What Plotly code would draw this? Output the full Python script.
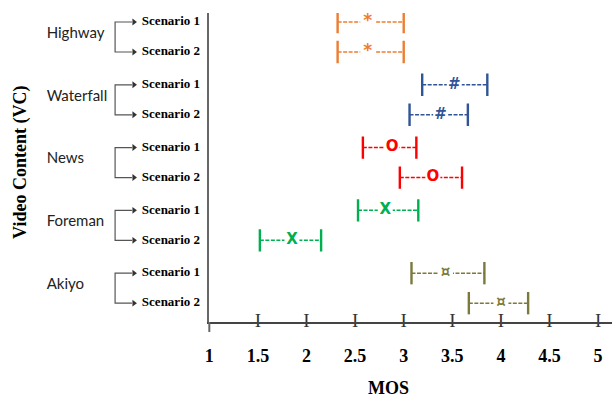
import plotly.graph_objects as go

# ---------------- data ----------------
groups = ["Highway", "Waterfall", "News", "Foreman", "Akiyo"]
scenarios = ["Scenario 1", "Scenario 2"]
mos_low = [[2.32, 2.32], [3.19, 3.06], [2.58, 2.96], [2.53, 1.52], [3.08, 3.67]]
mos_high = [[3.00, 3.00], [3.86, 3.66], [3.13, 3.60], [3.15, 2.15], [3.83, 4.28]]
mos_mid = [[2.63, 2.63], [3.52, 3.38], [2.88, 3.30], [2.81, 1.85], [3.43, 4.00]]
glyphs = ["*", "#", "O", "X", "¤"]
glyph_sizes = [17, 15, 15, 15, 15]
colors = ["#ED7D31", "#2F5597", "#FF0000", "#00B050", "#7A7A3C"]
x_ticks = [1, 1.5, 2, 2.5, 3, 3.5, 4, 4.5, 5]
x_tick_text = ["1", "1.5", "2", "2.5", "3", "3.5", "4", "4.5", "5"]

# ---------------- layout constants ----------------
W, H = 612, 398
AXIS_X = 206
MT, MB = 13, 76
PLOT_H = H - MT - MB
PLOT_W = W - AXIS_X
GROUP_STEP = 2.093
SCEN_STEP = 1.0
Y_TOP, Y_BOT = -0.3, 10.0
X_MAX = 1 + PLOT_W / 98.0

def row_y(g, s):
    return g * GROUP_STEP + s * SCEN_STEP

serif = "Liberation Serif"
sans = "Lato"
glyph_font = "DejaVu Sans"

fig = go.Figure()

for g, name in enumerate(groups):
    xs, ys = [], []
    for s in range(2):
        xs += [mos_low[g][s], mos_high[g][s], None]
        ys += [row_y(g, s), row_y(g, s), None]
    fig.add_trace(go.Scatter(
        x=xs, y=ys, mode="lines+markers",
        line=dict(color=colors[g], width=1.5, dash="4px,1.5px"),
        marker=dict(symbol="line-ns", size=16, line=dict(color=colors[g], width=2.4)),
        hoverinfo="skip", showlegend=False, xaxis="x", yaxis="y"))
    fig.add_trace(go.Scatter(
        x=mos_mid[g], y=[row_y(g, 0), row_y(g, 1)], mode="markers+text",
        marker=dict(symbol="square", size=15, color="white"),
        text=[glyphs[g]] * 2, textposition="middle center",
        textfont=dict(family=glyph_font, size=glyph_sizes[g], color=colors[g], weight="bold"),
        cliponaxis=False, hoverinfo="skip", showlegend=False, xaxis="x", yaxis="y"))

fig.add_trace(go.Scatter(
    x=x_ticks[1:], y=[Y_BOT] * (len(x_ticks) - 1), mode="text",
    text=["I"] * (len(x_ticks) - 1), textposition="middle center",
    textfont=dict(family=serif, size=19, color="#333333"),
    cliponaxis=False, hoverinfo="skip", showlegend=False, xaxis="x", yaxis="y"))

bx, arm_end, tip = 111, 128, 133
for g in range(len(groups)):
    y1, y2 = row_y(g, 0), row_y(g, 1)
    fig.add_trace(go.Scatter(
        x=[arm_end, bx, bx, arm_end], y=[y1, y1, y2, y2], mode="lines",
        line=dict(color="#555555", width=1.2), hoverinfo="skip",
        showlegend=False, xaxis="x2", yaxis="y", cliponaxis=False))
    fig.add_trace(go.Scatter(
        x=[tip - 3, tip - 3], y=[y1, y2], mode="markers",
        marker=dict(symbol="triangle-right", size=6, color="#333333"),
        hoverinfo="skip", showlegend=False, xaxis="x2", yaxis="y", cliponaxis=False))
    fig.add_trace(go.Scatter(
        x=[138, 138], y=[y1, y2], mode="text", text=scenarios,
        textposition="middle right",
        textfont=dict(family=serif, size=13, color="black", weight="bold"),
        hoverinfo="skip", showlegend=False, xaxis="x2", yaxis="y", cliponaxis=False))
    fig.add_trace(go.Scatter(
        x=[42], y=[(y1 + y2) / 2 - 0.1], mode="text", text=[groups[g]],
        textposition="middle right",
        textfont=dict(family=sans, size=15, color="#222222"),
        hoverinfo="skip", showlegend=False, xaxis="x2", yaxis="y", cliponaxis=False))

fig.update_layout(
    width=W, height=H,
    margin=dict(l=0, r=0, t=MT, b=MB, pad=0),
    paper_bgcolor="white", plot_bgcolor="white",
    xaxis=dict(domain=[AXIS_X / W, 1], range=[1, X_MAX],
               tickvals=x_ticks, ticktext=x_tick_text,
               showline=True, linecolor="#444444", linewidth=2,
               ticks="outside", ticklen=16, tickcolor="rgba(0,0,0,0)",
               tickfont=dict(family=serif, size=18, color="black", weight="bold"),
               showgrid=False, zeroline=False, fixedrange=True, anchor="y"),
    yaxis=dict(range=[Y_BOT, Y_TOP], showline=True, linecolor="#666666",
               linewidth=2, showticklabels=False, ticks="", showgrid=False,
               zeroline=False, fixedrange=True, anchor="x"),
    xaxis2=dict(domain=[0, AXIS_X / W], range=[0, AXIS_X], visible=False,
                anchor="y", fixedrange=True),
    showlegend=False,
)

fig.add_annotation(text="MOS", xref="paper", yref="paper",
                   x=(AXIS_X + PLOT_W / 2) / W,
                   y=-(388 - (H - MB)) / PLOT_H, yanchor="middle",
                   showarrow=False,
                   font=dict(family=serif, size=18, color="black", weight="bold"))
fig.add_annotation(text="Video Content (VC)", xref="paper", yref="paper",
                   x=15 / W, y=((H - MB) - 162) / PLOT_H,
                   xanchor="center", yanchor="middle", textangle=-90,
                   showarrow=False,
                   font=dict(family=serif, size=18, color="black", weight="bold"))
fig.add_shape(type="line", xref="paper", yref="paper",
              x0=AXIS_X / W, x1=AXIS_X / W,
              y0=0, y1=-10 / PLOT_H, line=dict(color="#666666", width=2))

fig.write_html("out.html")
